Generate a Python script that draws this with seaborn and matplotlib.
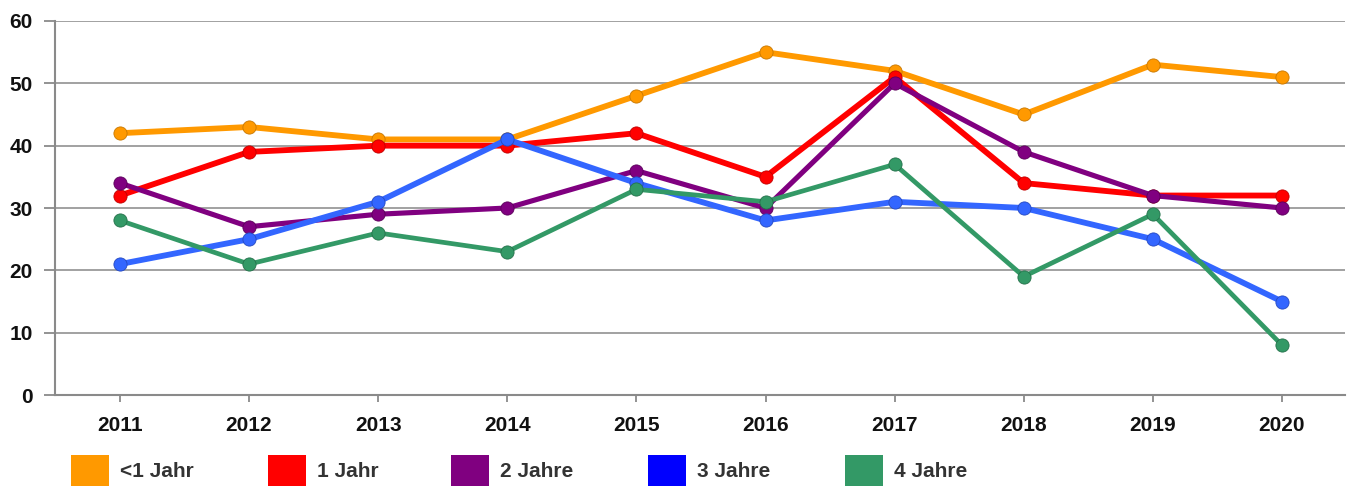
import pandas as pd
import seaborn as sns
import matplotlib.pyplot as plt
from matplotlib.patches import Rectangle

# Data
years = ["2011", "2012", "2013", "2014", "2015", "2016", "2017", "2018", "2019", "2020"]
series_names = ["<1 Jahr", "1 Jahr", "2 Jahre", "3 Jahre", "4 Jahre"]
lt1_jahr = [42, 43, 41, 41, 48, 55, 52, 45, 53, 51]
jahr_1 = [32, 39, 40, 40, 42, 35, 51, 34, 32, 32]
jahre_2 = [34, 27, 29, 30, 36, 30, 50, 39, 32, 30]
jahre_3 = [21, 25, 31, 41, 34, 28, 31, 30, 25, 15]
jahre_4 = [28, 21, 26, 23, 33, 31, 37, 19, 29, 8]

line_colors = ["#FF9900", "#FF0000", "#800080", "#3366FF", "#339966"]
legend_colors = ["#FF9900", "#FF0000", "#800080", "#0000FF", "#339966"]
edge_colors = ["#C77700", "#C00000", "#5A005A", "#2448C0", "#24704A"]
widths = [4.2, 4.2, 3.7, 4.2, 3.4]

#Build long-form table
values = [lt1_jahr, jahr_1, jahre_2, jahre_3, jahre_4]
rows = []
for name, vals in zip(series_names, values):
    for i, v in enumerate(vals):
        rows.append({"pos": i, "Jahr": years[i], "Serie": name, "Wert": v})
df = pd.DataFrame(rows)

sns.set_style("white")
plt.rcParams['font.family'] = ['Liberation Sans', 'DejaVu Sans']

W, H = 1353, 486
fig = plt.figure(figsize=(W / 100, H / 100), dpi=100)
ax = fig.add_axes([55 / W, 1 - 395 / H, (1345 - 55) / W, (395 - 21) / H])

for name, lc, ec, lw in zip(series_names, line_colors, edge_colors, widths):
    sub = df[df["Serie"] == name]
    sns.lineplot(data=sub, x="pos", y="Wert", ax=ax, color=lc, linewidth=lw,
                 marker="o", markersize=9.5, markeredgecolor=ec, markeredgewidth=0.6,
                 legend=False)

ax.set_xlim(-0.503, 9.488)
ax.set_ylim(0, 60)
ax.set_xticks(range(len(years)))
ax.set_xticklabels(years)
ax.set_yticks(range(0, 61, 10))
ax.set_xlabel("")
ax.set_ylabel("")
ax.yaxis.grid(True, color="#9A9A9A", linewidth=1.3)
ax.set_axisbelow(True)
for s in ["top", "right"]:
    ax.spines[s].set_visible(False)
for s in ["left", "bottom"]:
    ax.spines[s].set_color("#8A8A8A")
    ax.spines[s].set_linewidth(1.5)
ax.tick_params(axis="y", left=True, length=8, width=1.3, color="#8A8A8A", pad=8, labelsize=15)
ax.tick_params(axis="x", bottom=True, length=5, width=1.3, color="#8A8A8A", pad=10, labelsize=15)
for lab in ax.get_xticklabels() + ax.get_yticklabels():
    lab.set_fontweight("bold")
    lab.set_color("#111111")

#Legend row at the bottom
legend_x = [71, 268, 451, 648, 845]
for x0, c, name in zip(legend_x, legend_colors, series_names):
    fig.add_artist(Rectangle((x0 / W, 1 - 492 / H), 38 / W, 37 / H,
                             transform=fig.transFigure, facecolor=c, edgecolor="none"))
    fig.text((x0 + 49) / W, 1 - 471 / H, name, fontsize=15, fontweight="bold",
             color="#333333", va="center", ha="left")

fig.savefig("out.png", dpi=100)
